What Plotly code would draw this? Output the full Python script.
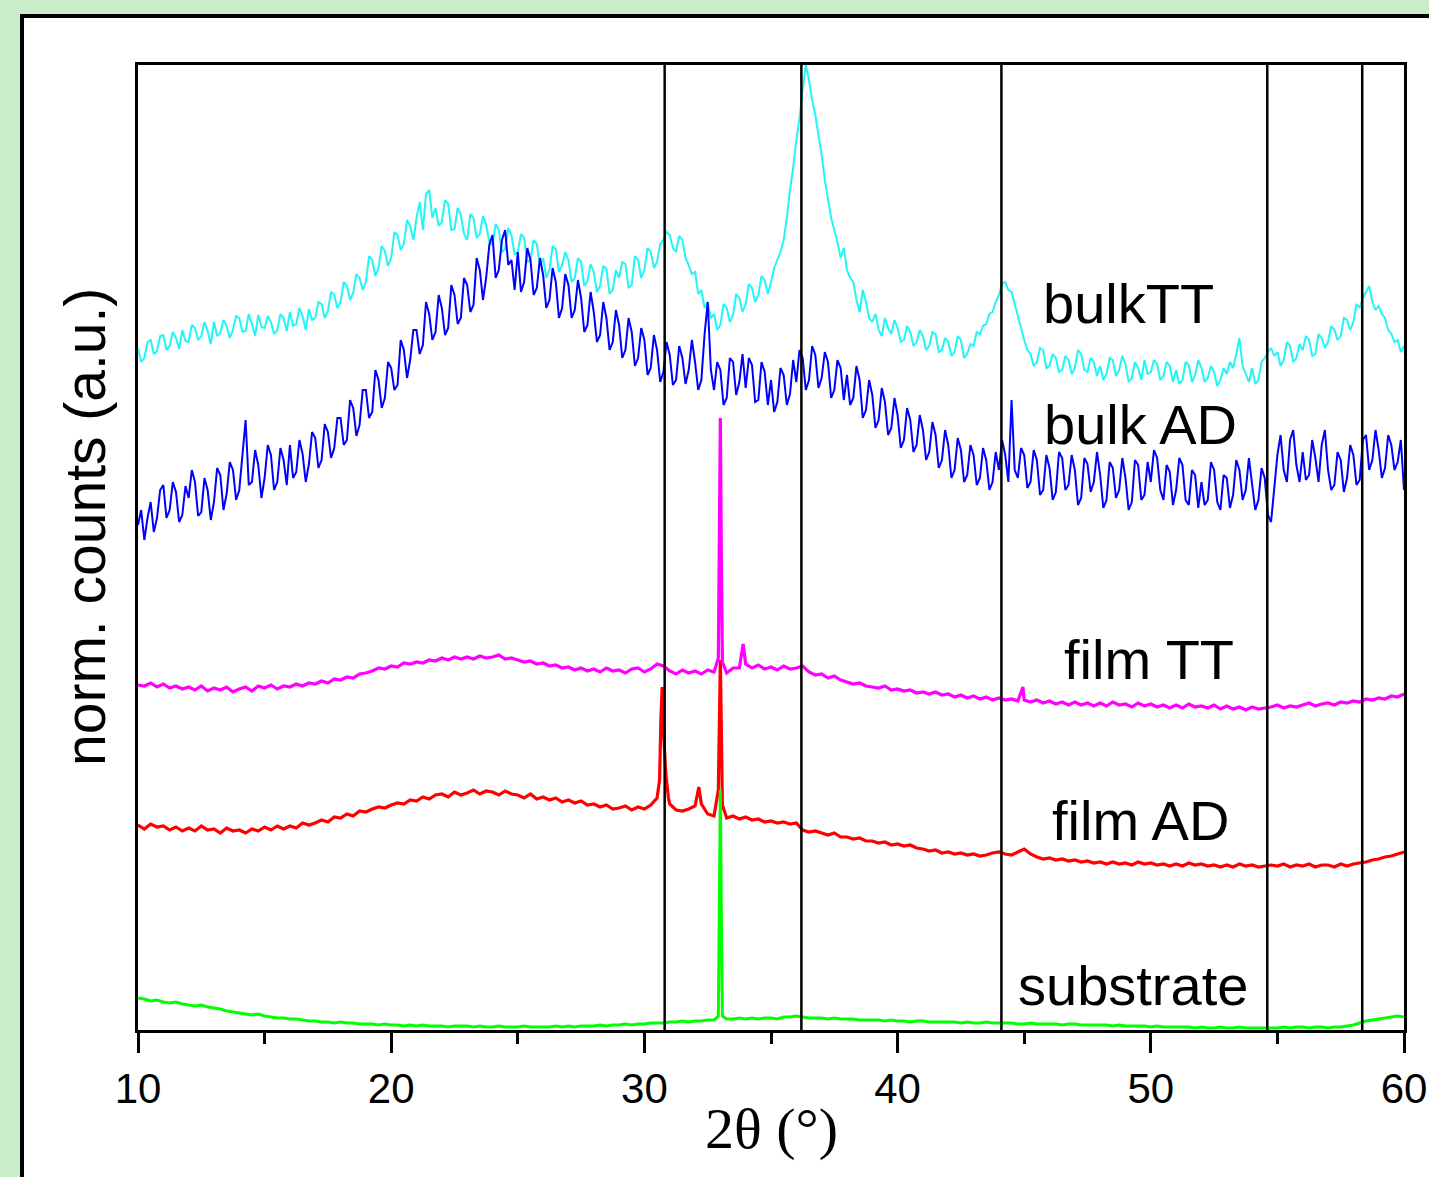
import plotly.graph_objects as go

# ---------------- data (y in a.u.) ----------------
X_START = 10.0
BULK_STEP = 0.125
FILM_STEP = 0.25

BULK_TT = [
    682, 668, 672, 688, 690, 676, 679, 694,
    695, 680, 684, 698, 692, 681, 700, 689,
    688, 705, 702, 690, 694, 708, 699, 686,
    708, 694, 697, 710, 704, 692, 700, 714,
    712, 698, 699, 716, 706, 694, 715, 703,
    702, 714, 708, 696, 700, 716, 712, 699,
    718, 704, 706, 722, 714, 700, 721, 710,
    712, 728, 726, 712, 719, 738, 735, 722,
    728, 748, 744, 730, 737, 756, 752, 740,
    748, 774, 770, 754, 762, 784, 779, 764,
    772, 798, 795, 780, 786, 810, 804, 790,
    812, 828, 800, 836, 840, 812, 822, 804,
    808, 830, 826, 800, 801, 822, 815, 796,
    790, 816, 812, 792, 796, 814, 805, 788,
    785, 806, 800, 778, 781, 802, 795, 776,
    778, 796, 792, 768, 770, 790, 786, 764,
    772, 752, 760, 784, 781, 758, 765, 778,
    770, 748, 752, 772, 768, 744, 749, 766,
    758, 738, 744, 764, 761, 736, 740, 760,
    752, 768, 766, 742, 745, 774, 770, 752,
    760, 782, 778, 762, 768, 786, 790, 798,
    795, 782, 778, 794, 790, 772, 765, 756,
    758, 736, 740, 722, 728, 712, 716, 700,
    705, 726, 722, 708, 715, 736, 732, 718,
    726, 746, 742, 728, 735, 754, 750, 736,
    748, 762, 770, 778, 790, 812, 840, 862,
    890, 912, 940, 965, 950, 930, 915, 896,
    875, 850, 830, 812, 800, 788, 772, 782,
    760, 752, 748, 730, 718, 740, 728, 712,
    708, 716, 700, 694, 712, 702, 696, 710,
    702, 688, 690, 704, 698, 684, 688, 700,
    694, 680, 684, 698, 696, 678, 680, 692,
    688, 674, 678, 694, 690, 672, 676, 686,
    684, 698, 696, 704, 706, 716, 718, 728,
    735, 746, 748, 740, 738, 726, 712, 700,
    690, 680, 676, 664, 668, 682, 680, 662,
    664, 676, 672, 658, 660, 674, 670, 656,
    662, 680, 676, 660, 658, 672, 668, 654,
    664, 650, 656, 672, 670, 654, 660, 674,
    666, 648, 652, 668, 662, 650, 670, 656,
    658, 670, 666, 650, 654, 668, 664, 648,
    660, 646, 650, 668, 665, 648, 655, 670,
    662, 648, 652, 664, 658, 644, 650, 662,
    656, 668, 662, 676, 692, 664, 655, 648,
    662, 646, 650, 668, 672, 678, 682, 674,
    678, 664, 670, 688, 684, 668, 672, 686,
    680, 694, 690, 674, 676, 696, 692, 682,
    688, 704, 700, 690, 694, 712, 710, 700,
    708, 726, 722, 732, 738, 744, 728, 720,
    724, 716, 712, 700, 696, 688, 690, 678,
    684]
BULK_TT_EXTRA_X = []
BULK_TT_EXTRA_Y = []

BULK_AD = [
    505, 520, 490, 512, 528, 498, 512, 540,
    545, 512, 520, 548, 538, 508, 515, 544,
    532, 560, 548, 514, 518, 552, 540, 510,
    528, 562, 555, 520, 536, 568, 560, 530,
    540, 575, 610, 545, 548, 580, 565, 532,
    552, 585, 575, 540, 548, 582, 570, 545,
    585, 552, 558, 590, 576, 548, 566, 598,
    592, 562, 570, 606, 598, 572, 582, 612,
    612, 585, 590, 630, 622, 594, 605, 640,
    640, 612, 618, 660, 650, 622, 632, 668,
    662, 640, 645, 690, 680, 652, 670, 700,
    700, 676, 685, 728, 716, 690, 698, 735,
    722, 695, 702, 745, 735, 706, 712, 752,
    745, 718, 725, 772, 760, 730, 752, 785,
    795, 752, 760, 790, 800, 765, 770, 740,
    778, 738, 748, 782, 770, 735, 742, 772,
    755, 722, 730, 762, 748, 712, 722, 756,
    745, 712, 720, 750, 732, 698, 705, 738,
    718, 688, 695, 728, 712, 680, 688, 720,
    705, 672, 680, 712, 698, 664, 672, 702,
    690, 655, 662, 695, 680, 648, 658, 688,
    675, 645, 650, 684, 672, 646, 660, 690,
    668, 640, 650, 695, 728, 660, 640, 668,
    660, 625, 632, 672, 668, 635, 648, 676,
    642, 672, 665, 628, 630, 668, 658, 625,
    650, 618, 628, 662, 655, 625, 636, 670,
    648, 680, 672, 640, 650, 684, 675, 642,
    652, 678, 668, 632, 640, 670, 662, 630,
    655, 625, 632, 664, 650, 612, 620, 650,
    635, 602, 610, 642, 628, 595, 602, 632,
    615, 582, 590, 622, 610, 578, 585, 615,
    600, 570, 578, 608, 595, 562, 570, 600,
    585, 552, 560, 592, 580, 548, 555, 585,
    575, 545, 552, 582, 570, 540, 548, 578,
    560, 590, 575, 548, 630, 560, 552, 582,
    575, 542, 548, 580, 570, 535, 540, 575,
    562, 530, 538, 578, 572, 540, 545, 575,
    560, 525, 532, 572, 566, 538, 548, 578,
    555, 522, 530, 568, 562, 532, 540, 572,
    552, 520, 528, 570, 565, 530, 535, 568,
    548, 580, 572, 540, 530, 565, 558, 525,
    540, 572, 565, 530, 525, 560, 555, 522,
    548, 525, 530, 568, 560, 528, 520, 555,
    552, 522, 535, 570, 560, 530, 540, 572,
    548, 520, 530, 562, 552, 515, 508, 540,
    575, 595, 560, 548, 590, 600, 565, 548,
    578, 550, 555, 590, 572, 548, 585, 600,
    560, 540, 545, 578, 570, 538, 552, 585,
    575, 545, 550, 590, 595, 560, 570, 600,
    580, 552, 562, 595, 585, 560, 568, 590,
    540]
BULK_AD_EXTRA_X = []
BULK_AD_EXTRA_Y = []

FILM_TT = [345, 344, 347, 343, 346, 342, 344, 341, 343, 340, 344, 339, 342, 340, 343, 338,
           341, 343, 339, 344, 342, 345, 341, 344, 343, 346, 344, 347, 346, 349, 347, 351,
           350, 353, 352, 356, 357, 359, 362, 361, 364, 363, 367, 366, 368, 367, 370, 369,
           372, 370, 373, 371, 373, 371, 374, 372, 373, 375, 371, 372, 370, 368, 369, 366,
           367, 364, 365, 362, 363, 360, 362, 359, 361, 358, 362, 359, 360, 357, 361, 362,
           358, 361, 366, 364, 359, 356, 360, 357, 359, 356, 360, 358, 612, 357, 362, 362,
           366, 362, 365, 361, 363, 360, 364, 361, 362, 364, 358, 355, 356, 352, 354, 350,
           348, 346, 347, 344, 343, 342, 344, 340, 341, 339, 340, 337, 338, 336, 338, 335,
           336, 333, 335, 332, 334, 331, 333, 330, 332, 330, 331, 329, 330, 328, 330, 327,
           329, 326, 328, 325, 328, 325, 327, 324, 327, 324, 328, 325, 326, 323, 327, 324,
           326, 323, 325, 322, 325, 322, 326, 323, 324, 322, 325, 321, 324, 321, 323, 320,
           323, 321, 322, 323, 325, 322, 324, 323, 325, 327, 324, 326, 327, 325, 328, 327,
           329, 328, 331, 330, 332, 331, 334, 333, 336]
FILM_TT_EXTRA_X = [32.92, 32.96, 33.04, 33.08, 33.9, 44.95]
FILM_TT_EXTRA_Y = [372, 480, 470, 368, 386, 343]

FILM_AD = [205, 201, 206, 203, 204, 200, 203, 199, 202, 199, 204, 200, 201, 197, 202, 199,
           200, 197, 201, 199, 203, 200, 204, 201, 204, 202, 207, 205, 207, 210, 208, 213,
           212, 216, 214, 219, 218, 221, 223, 222, 225, 227, 226, 230, 229, 233, 231, 235,
           236, 233, 238, 235, 237, 240, 236, 239, 238, 235, 239, 236, 235, 232, 236, 231,
           233, 230, 232, 228, 230, 227, 229, 225, 226, 223, 225, 221, 222, 224, 220, 223,
           221, 225, 232, 300, 226, 220, 219, 221, 224, 226, 216, 214, 370, 212, 214, 211,
           213, 210, 211, 208, 209, 207, 208, 206, 207, 200, 198, 199, 197, 195, 197, 193,
           193, 191, 192, 189, 189, 187, 188, 185, 186, 184, 185, 182, 181, 179, 180, 177,
           178, 176, 177, 175, 176, 174, 175, 177, 178, 176, 175, 178, 181, 176, 173, 171,
           172, 170, 171, 169, 170, 168, 169, 167, 168, 166, 168, 166, 167, 165, 168, 166,
           167, 165, 166, 164, 166, 164, 167, 165, 166, 164, 165, 163, 165, 163, 166, 164,
           165, 163, 164, 165, 164, 166, 163, 165, 164, 166, 163, 165, 165, 163, 166, 164,
           166, 167, 168, 170, 171, 173, 174, 176, 178]
FILM_AD_EXTRA_X = [30.6, 30.65, 30.7, 30.85, 30.95, 32.15, 32.92, 32.96, 33.04, 33.08]
FILM_AD_EXTRA_Y = [250, 310, 343, 255, 232, 243, 240, 310, 300, 225]

SUBSTRATE = [32, 31, 29, 30, 28, 27, 28, 26, 25, 24, 25, 23, 22, 21, 19, 18,
             17, 16, 15, 16, 14, 13, 12, 12, 11, 11, 10, 9, 9, 8, 8, 7,
             8, 7, 7, 6, 6, 6, 5, 6, 5, 5, 4, 5, 4, 5, 4, 4,
             4, 3, 4, 4, 4, 3, 4, 3, 3, 4, 3, 3, 3, 4, 3, 3,
             3, 3, 4, 3, 4, 3, 4, 4, 4, 5, 4, 5, 5, 6, 5, 6,
             6, 7, 7, 7, 8, 8, 9, 8, 9, 9, 10, 10, 240, 11, 11, 12,
             11, 12, 11, 12, 12, 11, 13, 13, 14, 13, 12, 12, 12, 11, 12, 11,
             11, 11, 10, 10, 10, 10, 9, 10, 9, 9, 8, 9, 9, 8, 8, 8,
             8, 8, 7, 8, 7, 7, 8, 7, 7, 7, 7, 6, 6, 7, 6, 6,
             6, 6, 5, 6, 6, 5, 5, 5, 5, 5, 4, 5, 4, 4, 4, 4,
             3, 4, 3, 3, 3, 3, 3, 2, 3, 2, 2, 3, 2, 2, 3, 2,
             2, 2, 2, 2, 2, 3, 2, 3, 3, 2, 3, 3, 2, 3, 3, 4,
             5, 7, 9, 10, 11, 12, 13, 14, 13]
SUBSTRATE_EXTRA_X = [32.92, 32.96, 33.04, 33.08]
SUBSTRATE_EXTRA_Y = [14, 120, 110, 14]

REF_LINES = [30.8, 36.2, 44.1, 54.6, 58.35]
X_TICKS = [10, 20, 30, 40, 50, 60]

LABELS = ["bulkTT", "bulk AD", "film TT", "film AD", "substrate"]
LABEL_X = [49.10, 49.61, 49.93, 49.61, 49.29]
LABEL_Y = [727, 606, 371, 210, 45]

# (name, values, step, extra x, extra y, colour, width) in drawing order
SERIES = [
    ("bulkTT", BULK_TT, BULK_STEP, BULK_TT_EXTRA_X, BULK_TT_EXTRA_Y, "#22F5F5", 2),
    ("bulk AD", BULK_AD, BULK_STEP, BULK_AD_EXTRA_X, BULK_AD_EXTRA_Y, "#0000FF", 2),
    ("film AD", FILM_AD, FILM_STEP, FILM_AD_EXTRA_X, FILM_AD_EXTRA_Y, "#FF0000", 3.2),
    ("film TT", FILM_TT, FILM_STEP, FILM_TT_EXTRA_X, FILM_TT_EXTRA_Y, "#FF00FF", 3.2),
    ("substrate", SUBSTRATE, FILM_STEP, SUBSTRATE_EXTRA_X, SUBSTRATE_EXTRA_Y, "#00FF00", 3),
]


def merged(vals, step, ex, ey):
    xs = [X_START + step * i for i in range(len(vals))]
    pts = sorted(list(zip(xs, vals)) + list(zip(ex, ey)))
    return [p[0] for p in pts], [p[1] for p in pts]


fig = go.Figure()
for name, vals, step, ex, ey, col, w in SERIES:
    xs, ys = merged(vals, step, ex, ey)
    fig.add_trace(go.Scatter(x=xs, y=ys, mode="lines", name=name,
                             line=dict(color=col, width=w), showlegend=False))

# outer panel (white card with black border on green background)
fig.add_shape(type="rect", xref="paper", yref="paper",
              x0=(22 - 138) / 1266, x1=(1460 - 138) / 1266,
              y0=(1030 - 1200) / 965, y1=(1030 - 16) / 965,
              line=dict(color="black", width=4), fillcolor="white", layer="below")

for v in REF_LINES:
    fig.add_shape(type="line", xref="x", yref="paper", x0=v, x1=v, y0=0, y1=1,
                  line=dict(color="black", width=2.5), layer="above")

for t, lx, ly in zip(LABELS, LABEL_X, LABEL_Y):
    fig.add_annotation(x=lx, y=ly, xref="x", yref="y", text=t, showarrow=False,
                       xanchor="center", yanchor="middle",
                       font=dict(family="Liberation Sans, Arial", size=56, color="black"))

fig.add_annotation(x=0.5, y=(1030 - 1128) / 965, xref="paper", yref="paper",
                   text="2\u03b8 (\u00b0)", showarrow=False, xanchor="center", yanchor="middle",
                   font=dict(family="Liberation Serif, Times New Roman", size=58, color="black"))
fig.add_annotation(x=(85 - 138) / 1266, y=(1030 - 527) / 965, xref="paper", yref="paper",
                   text="norm. counts (a.u.)", showarrow=False, textangle=-90,
                   xanchor="center", yanchor="middle",
                   font=dict(family="Liberation Sans, Arial", size=57, color="black"))

fig.update_layout(
    width=1429, height=1177, autosize=False,
    margin=dict(l=138, r=25, t=65, b=147, autoexpand=False),
    paper_bgcolor="#C9ECC9", plot_bgcolor="white",
    xaxis=dict(range=[10, 60], tickvals=X_TICKS, ticks="outside", ticklen=20, tickwidth=3,
               tickcolor="black", showline=True, linewidth=3, linecolor="black", mirror=True,
               showgrid=False, zeroline=False, automargin=False,
               tickfont=dict(family="Liberation Sans, Arial", size=42, color="black"),
               minor=dict(dtick=5, tick0=10, ticks="outside", ticklen=11, tickwidth=3,
                          tickcolor="black", showgrid=False)),
    yaxis=dict(range=[0, 965], showticklabels=False, ticks="", showline=True, linewidth=3,
               linecolor="black", mirror=True, showgrid=False, zeroline=False, automargin=False),
)

POST = (
    "document.documentElement.style.margin='0px';"
    "document.documentElement.style.padding='0px';"
    "document.documentElement.style.overflow='hidden';"
    "document.body.style.margin='0px';"
    "document.body.style.padding='0px';"
    "document.body.style.overflow='hidden';"
    "var gd=document.getElementsByClassName('plotly-graph-div')[0];"
    "gd.style.display='block';"
)

fig.write_html("out.html", config={"displayModeBar": False}, post_script=POST)
